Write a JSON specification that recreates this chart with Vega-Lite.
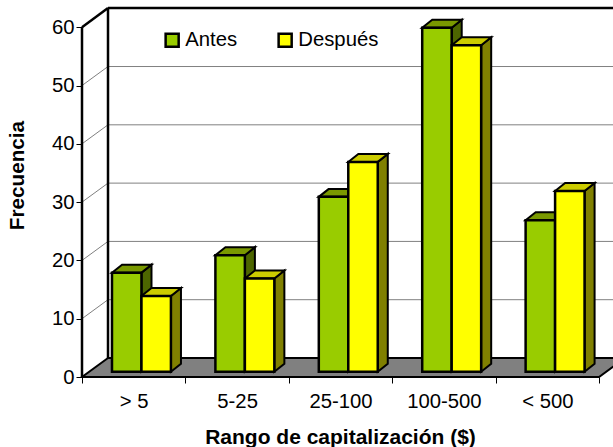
{
"$schema":"https://vega.github.io/schema/vega-lite/v6.json",
"width":531,"height":369,
"autosize":{"type":"none"},
"padding":{"left":82,"top":8,"right":0,"bottom":70},
"background":"white",
"config":{"view":{"stroke":null},"font":"Liberation Sans"},
"datasets":{
"bars":[
{"cat":"> 5","series":"Antes","value":17},{"cat":"> 5","series":"Después","value":13},
{"cat":"5-25","series":"Antes","value":20},{"cat":"5-25","series":"Después","value":16},
{"cat":"25-100","series":"Antes","value":30},{"cat":"25-100","series":"Después","value":36},
{"cat":"100-500","series":"Antes","value":59},{"cat":"100-500","series":"Después","value":56},
{"cat":"< 500","series":"Antes","value":26},{"cat":"< 500","series":"Después","value":31}
],
"grid":[{"v":10},{"v":20},{"v":30},{"v":40},{"v":50}]
},
"layer":[
{"data":{"values":[{"t":0},{"t":1}]},
 "transform":[{"calculate":"datum.t*0.2515","as":"xa"},{"calculate":"5+datum.t*0.2515","as":"xb"},{"calculate":"datum.t*3.26","as":"yy"}],
 "mark":{"type":"area","orient":"horizontal","fill":"#808080","stroke":"#000","strokeWidth":2,"clip":false},
 "encoding":{
  "x":{"field":"xa","type":"quantitative","scale":{"domain":[0,5.135],"nice":false,"zero":false},
   "axis":{"values":[0,0.5,1,1.5,2,2.5,3,3.5,4,4.5,5],"domain":false,"grid":false,"title":"Rango de capitalización ($)","titleFontSize":21,"titleFontWeight":"bold","titleColor":"#000","titleX":258,"titleY":66,"titleBaseline":"alphabetic","labelFontSize":20.3,"labelColor":"#000","labelPadding":8,"tickSize":6,"tickColor":"#000","labelAngle":0,"labelFlush":false,"labelOverlap":false,"tickOpacity":{"condition":{"test":"datum.value%1==0","value":1},"value":0},
    "labelExpr":"datum.value%1==0?'':['> 5','5-25','25-100','100-500','< 500'][datum.value-0.5]"}},
  "x2":{"field":"xb"},
  "y":{"field":"yy","type":"quantitative","scale":{"domain":[0,63.3],"nice":false,"zero":false},
   "axis":{"values":[0,10,20,30,40,50,60],"domain":false,"grid":false,"title":"Frecuencia","titleFontSize":20.7,"titleFontWeight":"bold","titleColor":"#000","titleX":-55,"titleY":167,"labelFontSize":20.3,"labelColor":"#000","labelPadding":2,"tickSize":6,"tickColor":"#000"}}
 }},
{"data":{"name":"grid"},
 "mark":{"type":"rule","stroke":"#808080","strokeWidth":1},
 "transform":[{"calculate":"datum.v+3.26","as":"vb"}],
 "encoding":{"x":{"datum":0.2515,"type":"quantitative"},"x2":{"datum":5.135},"y":{"field":"vb","type":"quantitative"}}},
{"data":{"name":"grid"},
 "mark":{"type":"rule","stroke":"#808080","strokeWidth":1},
 "transform":[{"calculate":"datum.v+3.26","as":"vb"}],
 "encoding":{"x":{"datum":0,"type":"quantitative"},"x2":{"datum":0.2515},"y":{"field":"v","type":"quantitative"},"y2":{"field":"vb"}}},
{"data":{"values":[{"a":0,"b":0,"c":0,"d":60},{"a":0,"b":0.2515,"c":60,"d":63.3},{"a":0.2515,"b":0.2515,"c":3.26,"d":63.3},{"a":0.2515,"b":5.135,"c":63.3,"d":63.3}]},
 "mark":{"type":"rule","stroke":"#000","strokeWidth":2.5},
 "encoding":{"x":{"field":"a","type":"quantitative"},"x2":{"field":"b"},"y":{"field":"c","type":"quantitative"},"y2":{"field":"d"}}},
{"data":{"name":"bars"},
 "transform":[
  {"calculate":"indexof(['> 5','5-25','25-100','100-500','< 500'],datum.cat)","as":"i"},
  {"calculate":"datum.series=='Antes'?0:1","as":"s"},
  {"calculate":"[0,1]","as":"t"},{"flatten":["t"]},
  {"calculate":"datum.i+0.29+(datum.s+1)*0.285+datum.t*0.097","as":"xs"},
  {"calculate":"datum.value+0.9+datum.t*1.37","as":"yt"},
  {"calculate":"0.9+datum.t*1.37","as":"yb"}],
 "mark":{"type":"area","orient":"vertical","stroke":"#000","strokeWidth":2,"opacity":1},
 "encoding":{"x":{"field":"xs","type":"quantitative"},"y":{"field":"yt","type":"quantitative"},"y2":{"field":"yb"},
  "detail":{"field":"cat"},
  "color":{"field":"series","type":"nominal","scale":{"domain":["Antes","Después"],"range":["#4D6600","#808000"]},"legend":null}}},
{"data":{"name":"bars"},
 "transform":[
  {"calculate":"indexof(['> 5','5-25','25-100','100-500','< 500'],datum.cat)","as":"i"},
  {"calculate":"datum.series=='Antes'?0:1","as":"s"},
  {"calculate":"[0,1]","as":"t"},{"flatten":["t"]},
  {"calculate":"datum.i+0.29+datum.s*0.285+datum.t*0.097","as":"xa"},
  {"calculate":"datum.i+0.29+(datum.s+1)*0.285+datum.t*0.097","as":"xb"},
  {"calculate":"datum.value+0.9+datum.t*1.37","as":"yt"}],
 "mark":{"type":"area","orient":"horizontal","stroke":"#000","strokeWidth":2,"opacity":1},
 "encoding":{"y":{"field":"yt","type":"quantitative"},"x":{"field":"xa","type":"quantitative"},"x2":{"field":"xb"},
  "detail":{"field":"cat"},
  "color":{"field":"series","type":"nominal","scale":{"domain":["Antes","Después"],"range":["#7A9900","#CCCC00"]},"legend":null}}},
{"data":{"name":"bars"},
 "transform":[
  {"calculate":"indexof(['> 5','5-25','25-100','100-500','< 500'],datum.cat)","as":"i"},
  {"calculate":"datum.series=='Antes'?0:1","as":"s"},
  {"calculate":"datum.i+0.29+datum.s*0.285","as":"xa"},
  {"calculate":"datum.i+0.29+(datum.s+1)*0.285","as":"xb"},
  {"calculate":"datum.value+0.9","as":"yt"},
  {"calculate":"0.9","as":"yb"}],
 "mark":{"type":"rect","stroke":"#000","strokeWidth":2.5,"opacity":1},
 "encoding":{"x":{"field":"xa","type":"quantitative"},"x2":{"field":"xb"},"y":{"field":"yt","type":"quantitative"},"y2":{"field":"yb"},
  "color":{"field":"series","type":"nominal","scale":{"domain":["Antes","Después"],"range":["#99CC00","#FFFF00"]},
   "legend":{"title":null,"orient":"none","legendX":80,"legendY":22,"direction":"horizontal","columns":2,"columnPadding":35,"symbolType":"square","symbolSize":170,"symbolStrokeColor":"#000","symbolStrokeWidth":2.5,"symbolOpacity":1,"labelFontSize":20.3,"labelColor":"#000","labelOffset":3,"padding":0}}}}
],
"resolve":{"scale":{"color":"independent"}}
}
